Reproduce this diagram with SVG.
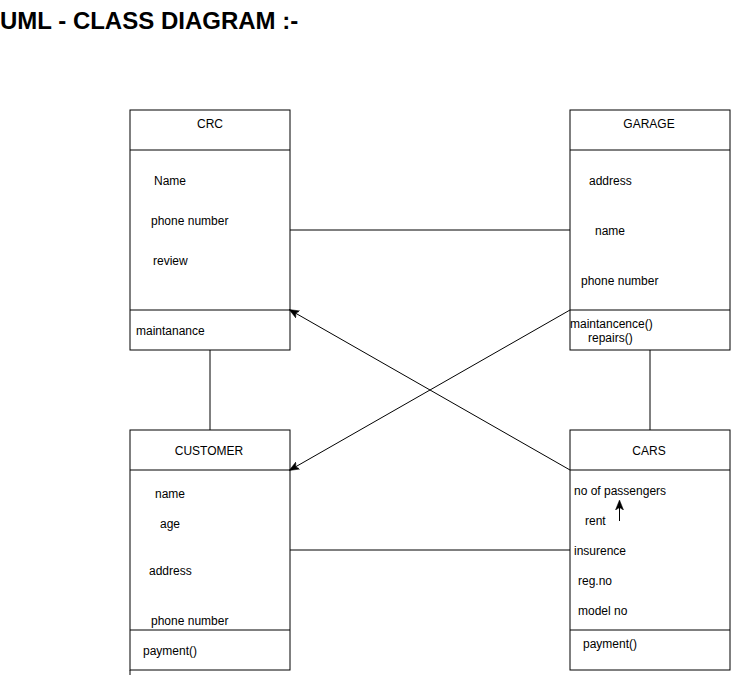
<svg xmlns="http://www.w3.org/2000/svg" width="732" height="675" viewBox="0 0 732 675">
<defs>
<style>
.box{fill:#fff;stroke:#000;stroke-width:1}
.ln{stroke:#000;stroke-width:1;fill:none}
.t{font-family:"Liberation Sans",Arial,sans-serif;font-size:12px;fill:#000}
.c{text-anchor:middle}
.title{font-family:"Liberation Sans",Arial,sans-serif;font-size:24px;font-weight:bold;fill:#000}
</style>
<marker id="ah" viewBox="0 0 10 10" refX="9" refY="5" markerWidth="10" markerHeight="10" markerUnits="userSpaceOnUse" orient="auto">
<path d="M0,1 L10,5 L0,9 L2.5,5 Z" fill="#000" stroke="#000" stroke-width="0.5"/>
</marker>
</defs>
<rect width="732" height="675" fill="#fff"/>
<text class="title" x="0" y="29">UML - CLASS DIAGRAM :-</text>

<g id="crc">
<rect class="box" x="130" y="110" width="160" height="240"/>
<line class="ln" x1="130" y1="150" x2="290" y2="150"/>
<line class="ln" x1="130" y1="310" x2="290" y2="310"/>
<text class="t c" x="210" y="128">CRC</text>
<text class="t" x="154" y="185">Name</text>
<text class="t" x="151" y="225">phone number</text>
<text class="t" x="153" y="265">review</text>
<text class="t" x="136" y="335">maintanance</text>
</g>

<g id="garage">
<rect class="box" x="570" y="110" width="160" height="240"/>
<line class="ln" x1="570" y1="150" x2="730" y2="150"/>
<line class="ln" x1="570" y1="310" x2="730" y2="310"/>
<text class="t c" x="649" y="128">GARAGE</text>
<text class="t" x="589" y="185">address</text>
<text class="t" x="595" y="235">name</text>
<text class="t" x="581" y="285">phone number</text>
<text class="t" x="570" y="328">maintancence()</text>
<text class="t" x="588" y="342">repairs()</text>
</g>

<g id="customer">
<rect class="box" x="130" y="430" width="160" height="240"/>
<line class="ln" x1="130" y1="470" x2="290" y2="470"/>
<line class="ln" x1="130" y1="630" x2="290" y2="630"/>
<line class="ln" x1="130" y1="670" x2="130" y2="675"/>
<text class="t c" x="209" y="455">CUSTOMER</text>
<text class="t" x="155" y="498">name</text>
<text class="t" x="160" y="528">age</text>
<text class="t" x="149" y="575">address</text>
<text class="t" x="151" y="625">phone number</text>
<text class="t" x="143" y="655">payment()</text>
</g>

<g id="cars">
<rect class="box" x="570" y="430" width="160" height="240"/>
<line class="ln" x1="570" y1="470" x2="730" y2="470"/>
<line class="ln" x1="570" y1="630" x2="730" y2="630"/>
<text class="t c" x="649" y="455">CARS</text>
<text class="t" x="574" y="495">no of passengers</text>
<text class="t" x="585" y="525">rent</text>
<text class="t" x="574" y="555">insurence</text>
<text class="t" x="578" y="585">reg.no</text>
<text class="t" x="578" y="615">model no</text>
<text class="t" x="583" y="648">payment()</text>
</g>

<g id="connectors">
<line class="ln" x1="290" y1="230" x2="570" y2="230"/>
<line class="ln" x1="210" y1="350" x2="210" y2="430"/>
<line class="ln" x1="650" y1="350" x2="650" y2="430"/>
<line class="ln" x1="290" y1="550" x2="570" y2="550"/>
<line class="ln" x1="570" y1="470" x2="290" y2="310" marker-end="url(#ah)"/>
<line class="ln" x1="570" y1="310" x2="290" y2="470" marker-end="url(#ah)"/>
<line class="ln" x1="619.5" y1="521" x2="619.5" y2="501" stroke-width="1.5" marker-end="url(#ah)"/>
</g>
</svg>
